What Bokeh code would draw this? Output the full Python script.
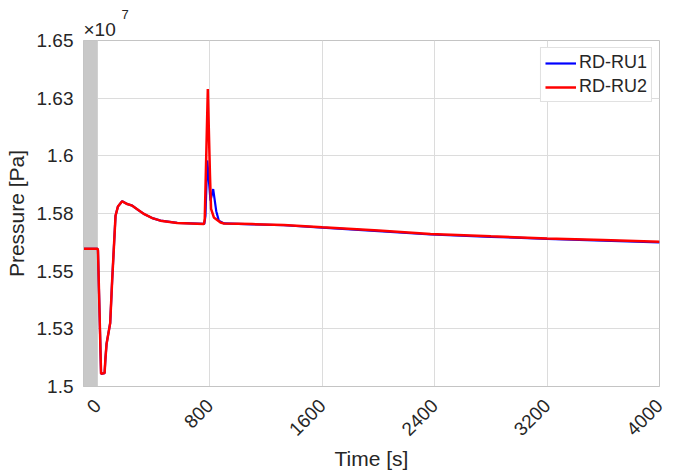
import math
from bokeh.plotting import figure
from bokeh.models import Range1d, FixedTicker, Legend, LegendItem, Title
from bokeh.embed import file_html
from bokeh.resources import INLINE

SCALE = 1e7

# RD-RU1 (blue) : time [s], pressure [x1e7 Pa]
t_ru1 = [-100, 0, 3, 25, 50, 56, 64, 80, 90, 104, 128, 145, 175, 211, 247, 290, 330,
         390, 448, 567, 760, 768, 781, 804, 823, 845, 863, 900, 1100, 1326, 1600,
         2000, 2370, 2800, 3200, 3600, 4000]
p_ru1 = [1.5597, 1.5597, 1.5590, 1.5055, 1.5058, 1.5120, 1.5184, 1.5240, 1.5275, 1.5460,
         1.5740, 1.5780, 1.5803, 1.5791, 1.5784, 1.5765, 1.5748, 1.5730, 1.5719, 1.5709,
         1.5705, 1.5740, 1.5980, 1.5806, 1.5856, 1.5760, 1.5719, 1.5707, 1.5703, 1.5699,
         1.5689, 1.5674, 1.5659, 1.5649, 1.5640, 1.5632, 1.5625]

# RD-RU2 (red)
t_ru2 = [-100, 0, 3, 25, 50, 56, 64, 80, 90, 104, 128, 145, 175, 211, 247, 290, 330,
         390, 448, 567, 757, 763, 785, 800, 808, 828, 875, 900, 1100, 1326, 1600,
         2000, 2370, 2800, 3200, 3600, 4000]
p_ru2 = [1.5597, 1.5597, 1.5590, 1.5055, 1.5058, 1.5120, 1.5184, 1.5240, 1.5275, 1.5460,
         1.5740, 1.5780, 1.5803, 1.5791, 1.5784, 1.5765, 1.5748, 1.5730, 1.5719, 1.5709,
         1.5704, 1.5725, 1.6290, 1.5920, 1.5770, 1.5733, 1.5711, 1.5707, 1.5704, 1.5700,
         1.5690, 1.5676, 1.5661, 1.5651, 1.5642, 1.5635, 1.5628]

x_ticks = [0, 800, 1600, 2400, 3200, 4000]
y_ticks = [1.5, 1.525, 1.55, 1.575, 1.6, 1.625, 1.65]
y_tick_labels = ["1.5", "1.53", "1.55", "1.58", "1.6", "1.63", "1.65"]
shade_start, shade_end = -100, 0
x_limits = (-100, 4000)
y_limits = (1.5, 1.65)

FONT = "Liberation Sans"
TXT = "#262626"

p = figure(width=674, height=473, output_backend="svg", toolbar_location=None,
           x_range=Range1d(*x_limits), y_range=Range1d(y_limits[0] * SCALE, y_limits[1] * SCALE),
           min_border_left=83, min_border_right=15, min_border_top=40, min_border_bottom=87,
           title="7")
p.background_fill_color = "white"
p.border_fill_color = "white"
p.outline_line_color = "#c4c4c4"

# exponent (×10^7) shown above the axis: "7" (outer row) over "×10" (inner row)
p.title.align = "left"
p.title.offset = 38
p.title.text_font = FONT
p.title.text_font_size = "13px"
p.title.text_font_style = "normal"
p.title.text_color = TXT
p.title.standoff = -6
p.add_layout(Title(text="×10", align="left", offset=0, text_font=FONT, text_font_size="19px",
                   text_font_style="normal", text_color=TXT, standoff=2), "above")

# shaded initial region
p.quad(left=[shade_start], right=[shade_end], bottom=[y_limits[0] * SCALE],
       top=[y_limits[1] * SCALE], fill_color="#c8c8c8", line_color=None)

r1 = p.line(t_ru1, [v * SCALE for v in p_ru1], line_color="#0000ff", line_width=2.2)
r2 = p.line(t_ru2, [v * SCALE for v in p_ru2], line_color="#ff0000", line_width=2.5)

# axes
p.xaxis.ticker = FixedTicker(ticks=x_ticks)
p.yaxis.ticker = FixedTicker(ticks=[v * SCALE for v in y_ticks])
p.yaxis.major_label_overrides = {v * SCALE: lab for v, lab in zip(y_ticks, y_tick_labels)}
p.xaxis.major_label_orientation = math.pi / 4

for ax in (p.xaxis, p.yaxis):
    ax.axis_line_color = "#c4c4c4"
    ax.major_tick_line_color = None
    ax.minor_tick_line_color = None
    ax.major_label_text_font = FONT
    ax.major_label_text_font_size = "19px"
    ax.major_label_text_color = TXT
    ax.axis_label_text_font = FONT
    ax.axis_label_text_font_size = "21px"
    ax.axis_label_text_font_style = "normal"
    ax.axis_label_text_color = TXT

p.xaxis.axis_label = "Time [s]"
p.yaxis.axis_label = "Pressure [Pa]"
p.yaxis.major_label_standoff = 4
p.yaxis.axis_label_standoff = 6
p.xaxis.major_label_standoff = 10
p.xaxis.axis_label_standoff = 2

p.grid.grid_line_color = "#dcdcdc"
p.grid.grid_line_width = 1

legend = Legend(items=[LegendItem(label="RD-RU1", renderers=[r1]),
                       LegendItem(label="RD-RU2", renderers=[r2])],
                location="top_right")
legend.label_text_font = FONT
legend.label_text_font_size = "18px"
legend.label_text_color = TXT
legend.glyph_width = 31
legend.glyph_height = 20
legend.label_height = 20
legend.spacing = 3
legend.padding = 4
legend.margin = 7
legend.label_standoff = 3
legend.border_line_color = "#c4c4c4"
legend.background_fill_alpha = 1
p.add_layout(legend)

open("out.html", "w").write(file_html(p, INLINE))
